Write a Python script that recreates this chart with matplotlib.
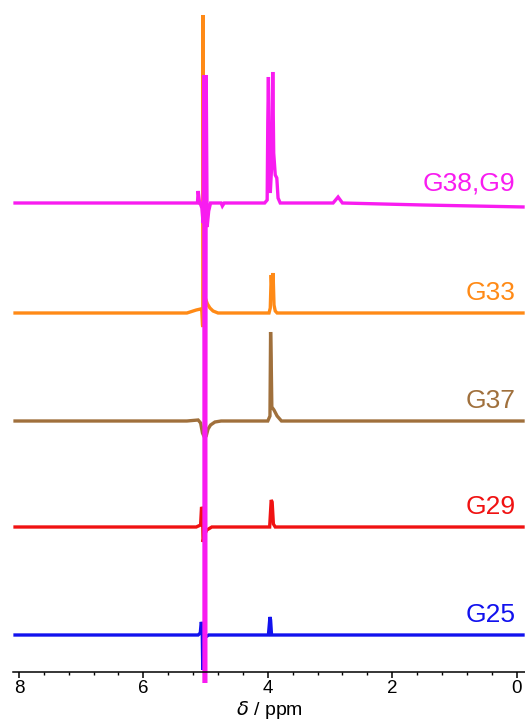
import matplotlib.pyplot as plt
from matplotlib.ticker import MultipleLocator

plt.rcParams['font.family'] = ['Liberation Sans', 'DejaVu Sans']

# Spectra: (ppm, intensity) pairs, intensity relative to its own baseline
names = ["G25", "G29", "G37", "G33", "G38,G9"]
colors = ["#1212EE", "#F01212", "#A0703C", "#FF8A16", "#F81CF0"]

g25_ppm = [8.09, 5.12, 5.085, 5.07, 5.055, 5.045, 5.03, 5.0, 4.95, 3.99, 3.965, 3.955, 3.94, -0.13]
g25_int = [0, 0, 2, 13, 10, -35, -5, -2, 0, 0, 18, 15, 0, 0]

g29_ppm = [8.09, 5.15, 5.08, 5.065, 5.05, 5.04, 5.02, 4.98, 4.9, 3.97, 3.945, 3.93, 3.91, 3.88, -0.13]
g29_int = [0, 0, 2, 20, 18, -15, -8, -3, 0, 0, 27, 25, 3, 0, 0]

g37_ppm = [8.09, 5.3, 5.12, 5.08, 5.05, 5.02, 4.99, 4.96, 4.92, 4.85, 4.75,
           4.0, 3.965, 3.955, 3.945, 3.935, 3.9, 3.85, 3.78, -0.13]
g37_int = [0, 0, 1, -2, -12, -16, -15, -8, -4, -1, 0,
           0, 5, 89, 60, 14, 11, 5, 0, 0]

g33_ppm = [8.09, 5.3, 5.15, 5.08, 5.06, 5.05, 5.045, 5.04, 5.03, 5.0, 4.97, 4.93, 4.88, 4.8,
           3.98, 3.96, 3.945, 3.93, 3.915, 3.9, 3.88, 3.85, -0.13]
g33_int = [0, 0, 3, 4, 2, -12, -14, 298, 20, 14, 9, 5, 2, 0,
           0, 5, 38, 20, 40, 8, 2, 0, 0]

g38_ppm = [8.09, 5.2, 5.13, 5.12, 5.1, 5.06, 5.04, 5.03, 5.02, 5.01, 5.0, 4.99, 4.975, 4.95, 4.92,
           4.75, 4.73, 4.7, 4.05, 4.01, 4.0, 3.99, 3.975, 3.96, 3.935, 3.92, 3.905, 3.88,
           3.855, 3.835, 3.8, 2.95, 2.87, 2.8, 1.5, -0.13]
g38_int = [0, 0, 0, 12, 2, -5, -20, 128, -480, 128, -480, 128, -24, -8, 0,
           0, -3, 0, 0, 3, 81, 126, 40, 10, 40, 131, 50, 28,
           25, 5, 0, 0, 6, 0, -2, -4]

spectra_ppm = [g25_ppm, g29_ppm, g37_ppm, g33_ppm, g38_ppm]
spectra_int = [g25_int, g29_int, g37_int, g33_int, g38_int]

# vertical offset of each trace above the axis
offsets = [37, 145, 251, 359, 469]

fig = plt.figure(figsize=(5.25, 7.23), dpi=100)
ax = fig.add_axes([13 / 525, 51 / 723, 512 / 525, 672 / 723])

for ppm, inten, off, col, name in zip(spectra_ppm, spectra_int, offsets, colors, names):
    ax.plot(ppm, [v + off for v in inten], color=col, lw=2.4, clip_on=False,
            solid_joinstyle='miter', solid_capstyle='butt')
    ax.text(0.02, off + 13, name, color=col, fontsize=19, ha='right', va='baseline')

ax.set_xlim(8.096, -0.135)
ax.set_ylim(0, 672)

for side in ['left', 'right', 'top']:
    ax.spines[side].set_visible(False)
ax.spines['bottom'].set_linewidth(1.1)
ax.set_yticks([])

ax.xaxis.set_major_locator(MultipleLocator(2))
ax.xaxis.set_minor_locator(MultipleLocator(0.4))
ax.tick_params(axis='x', which='major', direction='out', length=4, width=1.1,
               labelsize=13.5, pad=2)
ax.tick_params(axis='x', which='minor', direction='out', length=2.5, width=1.0)
ax.set_xlabel(r'$\delta$ / ppm', fontsize=14, labelpad=1)

fig.savefig("out.png", dpi=100)
